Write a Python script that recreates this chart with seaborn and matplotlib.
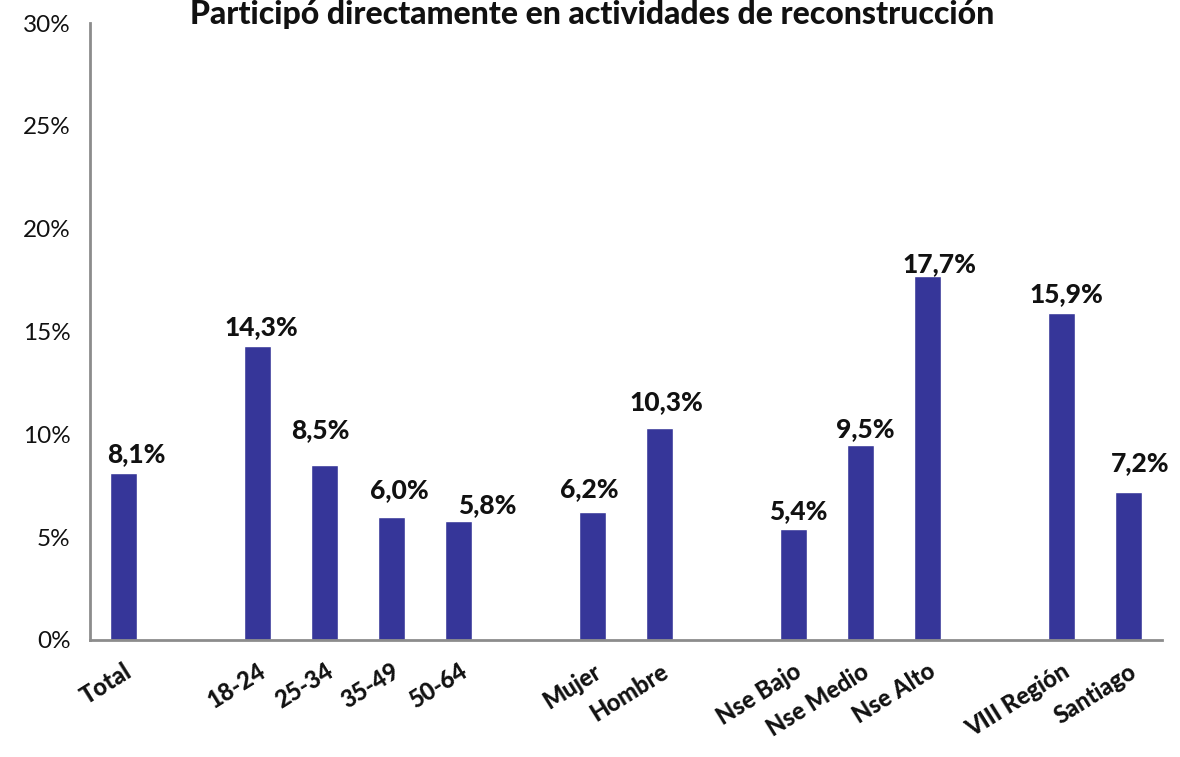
import matplotlib
matplotlib.use("Agg")
import matplotlib.pyplot as plt
import seaborn as sns
import numpy as np
import pandas as pd
from matplotlib.ticker import FixedLocator, PercentFormatter

categories = ["Total", "gap1", "18-24", "25-34", "35-49", "50-64", "gap2",
              "Mujer", "Hombre", "gap3", "Nse Bajo", "Nse Medio", "Nse Alto",
              "gap4", "VIII Región", "Santiago"]
tick_labels = ["Total", "", "18-24", "25-34", "35-49", "50-64", "",
               "Mujer", "Hombre", "", "Nse Bajo", "Nse Medio", "Nse Alto",
               "", "VIII Región", "Santiago"]
values = [8.1, np.nan, 14.3, 8.5, 6.0, 5.8, np.nan,
          6.2, 10.3, np.nan, 5.4, 9.5, 17.7,
          np.nan, 15.9, 7.2]
title = "Participó directamente en actividades de reconstrucción"

# manual label placement (pixels: horizontal shift, baseline gap above bar)
label_dx = [13, 0, 4, -4, 8, 29, 0, -3, 7, 0, 5, 5, 12, 0, 5, 12]
label_gap = [11, 0, 11, 27, 18, 8, 0, 15, 18, 0, 10, 8, 4, 0, 11, 21]

sns.set_theme(style="white")
plt.rcParams["font.family"] = ["Lato", "DejaVu Sans"]

df = pd.DataFrame({"cat": categories, "val": values})

fig = plt.figure(figsize=(11.8, 7.57), dpi=100)
ax = fig.add_axes([0.0763, 0.1546, 0.9084, 0.815])

sns.barplot(data=df.dropna(), x="cat", y="val", order=categories,
            color="#363699", saturation=1, width=0.4, ax=ax)

ax.set_xlim(-0.5, len(categories) - 0.5)
ax.set_ylim(0, 30)
ax.yaxis.set_major_locator(FixedLocator([0, 5, 10, 15, 20, 25, 30]))
ax.yaxis.set_major_formatter(PercentFormatter(decimals=0))
ax.tick_params(axis="y", which="major", direction="out", length=8,
               width=1.5, color="#8c8c8c", labelsize=17.5, pad=6,
               labelcolor="#111111")

ax.set_xticks(range(len(categories)))
ax.set_xticklabels(tick_labels, rotation=32, ha="right",
                   rotation_mode="anchor", fontweight="black", fontsize=17,
                   color="#111111")
ax.tick_params(axis="x", which="major", length=0, pad=14)
ax.xaxis.set_minor_locator(FixedLocator(np.arange(-0.5, len(categories), 1.0)))
ax.tick_params(axis="x", which="minor", direction="out", length=8,
               width=1.5, color="#8c8c8c")

for side in ["top", "right"]:
    ax.spines[side].set_visible(False)
for side in ["left", "bottom"]:
    ax.spines[side].set_color("#8c8c8c")
    ax.spines[side].set_linewidth(2)

ax.set_xlabel("")
ax.set_ylabel("")

for i, v in enumerate(values):
    if not np.isnan(v):
        ax.annotate(f"{v:.1f}%".replace(".", ","), (i, v),
                    xytext=(label_dx[i] * 0.72, label_gap[i] * 0.72),
                    textcoords="offset points",
                    ha="center", va="baseline", fontsize=19,
                    fontweight="black", color="#111111")

fig.text(0.502, 1 - 24 / 757, title, ha="center", va="baseline", fontsize=23,
         fontweight="black", color="#111111")

fig.savefig("out.png", dpi=100)
